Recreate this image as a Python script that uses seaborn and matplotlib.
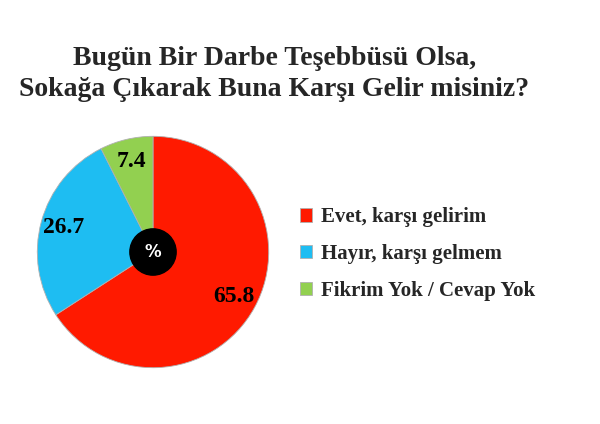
import matplotlib
matplotlib.use("Agg")
import matplotlib.pyplot as plt
import seaborn as sns

sns.set_style("white")
plt.rcParams['font.family'] = ['Liberation Serif', 'DejaVu Serif']

# data
categories = ["Evet, karşı gelirim", "Hayır, karşı gelmem", "Fikrim Yok / Cevap Yok"]
values = [65.8, 26.7, 7.4]
colors = ["#FF1A00", "#1EBDF2", "#92D050"]
title = "Bugün Bir Darbe Teşebbüsü Olsa,\nSokağa Çıkarak Buna Karşı Gelir misiniz?"

fig = plt.figure(figsize=(6, 4.24), dpi=100)
fig.patch.set_facecolor("white")

fig.text(0.457, 1 - 96/424, title, ha="center", va="baseline", fontsize=20,
         fontweight="bold", linespacing=1.3, multialignment="center")

ax = fig.add_axes([35/600, 54/424, 236/600, 236/424])
wedges, texts, autotexts = ax.pie(
    values, colors=colors, startangle=90, counterclock=False,
    autopct=lambda p: "", pctdistance=0.8,
    wedgeprops=dict(edgecolor="#b0b0b0", linewidth=0.6))
for w, v, t in zip(wedges, values, autotexts):
    t.set_text(f"{v:.1f}")
    t.set_fontsize(17)
    t.set_fontweight("bold")
    t.set_color("black")
ax.add_patch(plt.Circle((0, 0), 0.2, color="black", zorder=5))
ax.text(0, 0, "%", ha="center", va="center", color="white", fontsize=12,
        fontweight="bold", family="DejaVu Sans", zorder=6)
ax.set_xlim(-1.02, 1.02)
ax.set_ylim(-1.02, 1.02)
ax.set_aspect("equal")
ax.axis("off")

leg = fig.legend(wedges, categories, loc="center left",
                 bbox_to_anchor=(281/600, 1 - 254/424), frameon=False,
                 prop=dict(size=15, weight="bold"), handlelength=0.6,
                 handleheight=0.6, labelspacing=0.8, handletextpad=0.4)

fig.savefig("out.png", dpi=100, facecolor="white")
